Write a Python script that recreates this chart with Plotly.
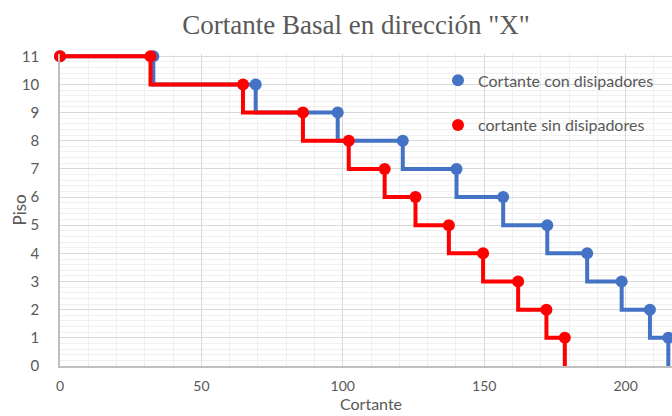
import plotly.graph_objects as go

# Piso (floor) levels, top to bottom
pisos = [11, 10, 9, 8, 7, 6, 5, 4, 3, 2, 1]

# Cortante per floor (left start point at 0 on floor 11)
con_disipadores_x = [0, 33.0, 69.2, 98.2, 121.2, 140.2, 156.7, 172.3, 186.4, 198.6, 208.6, 215.1]
sin_disipadores_x = [0, 32.0, 64.7, 85.9, 102.1, 114.8, 125.7, 137.5, 149.6, 162.0, 172.0, 178.5]
puntos_y = [11] + pisos

BLUE = "#4472C4"
RED = "#FF0000"

fig = go.Figure()

for name, xs, color in [
    ("Cortante con disipadores", con_disipadores_x, BLUE),
    ("cortante sin disipadores", sin_disipadores_x, RED),
]:
    # stepped line, ending down at floor 0
    fig.add_trace(go.Scatter(
        x=xs + [xs[-1]], y=puntos_y + [0],
        mode="lines", line=dict(color=color, width=4, shape="vh"),
        showlegend=False, hoverinfo="skip", cliponaxis=False,
    ))
    fig.add_trace(go.Scatter(
        x=xs, y=puntos_y, mode="markers", name=name,
        marker=dict(color=color, size=12),
        legendgroup=name, cliponaxis=False,
    ))

grey = "#595959"
y_top = 11.08  # small headroom so the top step line is not cut
plot_h = 416 - 54 - 50

fig.update_layout(
    width=672, height=416,
    margin=dict(l=60, r=0, t=54, b=50),
    paper_bgcolor="white", plot_bgcolor="white",
    title=dict(text='Cortante Basal en dirección "X"', x=356 / 672, xanchor="center",
               y=1 - 25 / 416, yanchor="middle",
               font=dict(family="Liberation Serif", size=27, color=grey)),
    font=dict(family="Lato", color=grey, size=15),
    showlegend=True,
    legend=dict(x=(438 - 60) / 612, y=0.97, xanchor="left", yanchor="top",
                bgcolor="rgba(0,0,0,0)", traceorder="grouped", tracegroupgap=21,
                font=dict(family="Lato", size=16, color=grey),
                itemwidth=30),
    xaxis=dict(
        range=[0, 216.4], tickmode="linear", tick0=0, dtick=50,
        showgrid=True, gridcolor="#d9d9d9", gridwidth=1,
        minor=dict(dtick=10, showgrid=True, gridcolor="#efefef", gridwidth=1),
        showline=True, linecolor="#bfbfbf", linewidth=1.5,
        zeroline=False,
        ticks="outside", ticklen=6, tickcolor="rgba(0,0,0,0)",
        tickfont=dict(size=14, color=grey),
    ),
    yaxis=dict(
        range=[0, y_top], tickmode="linear", tick0=0, dtick=1,
        showgrid=True, gridcolor="#d9d9d9", gridwidth=1,
        minor=dict(dtick=0.2, showgrid=True, gridcolor="#f0f0f0", gridwidth=1),
        showline=True, linecolor="#bfbfbf", linewidth=1.5,
        zeroline=False,
        ticks="outside", ticklen=16, tickcolor="rgba(0,0,0,0)",
        tickfont=dict(size=15, color=grey),
    ),
    annotations=[
        dict(text="Piso", textangle=-90, xref="paper", yref="paper",
             x=-(60 - 18.5) / 612, y=0.5, xanchor="center", yanchor="middle",
             showarrow=False, font=dict(family="Lato", size=17, color=grey)),
        dict(text="Cortante", xref="paper", yref="paper",
             x=(371 - 60) / 612, y=-(416 - 366 - 1) / plot_h, xanchor="center",
             yanchor="bottom",
             showarrow=False, font=dict(family="Lato", size=16, color=grey)),
    ],
)

fig.write_html("out.html")
